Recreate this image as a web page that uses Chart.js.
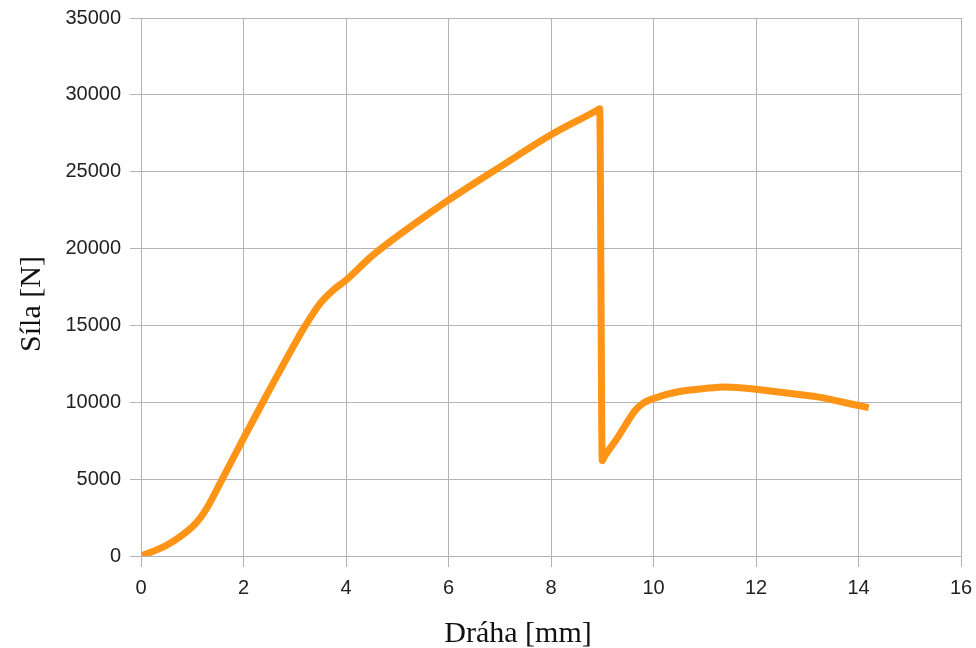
<!DOCTYPE html>
<html>
<head>
<meta charset="utf-8">
<script src="https://cdn.jsdelivr.net/npm/chart.js@4"></script>
<style>
html,body{margin:0;padding:0;background:#fff;}
#wrap{width:976px;height:648px;}
</style>
</head>
<body>
<div id="wrap"><canvas id="c" width="976" height="648"></canvas></div>
<script>
const drahaMm = [0, 0.5, 1.0, 1.15, 1.3, 1.6, 2.0, 2.4, 3.0, 3.2, 3.5, 3.75, 4.0, 4.5, 5.0, 5.5, 6.0, 7.0, 8.0, 8.9, 8.95, 9.0, 9.03, 9.3, 9.65, 9.8, 10.0, 10.5, 11.0, 11.4, 12.0, 12.6, 13.2, 13.7, 14.2];
const silaN = [0, 700, 1900, 2450, 3200, 5100, 7650, 10150, 13800, 14950, 16450, 17300, 17950, 19500, 20800, 22000, 23150, 25300, 27400, 29000, 29100, 6200, 6400, 7700, 9500, 9950, 10250, 10700, 10900, 11000, 10850, 10600, 10350, 10000, 9650];
const xTitle = 'Dráha [mm]';
const yTitle = 'Síla [N]';

const points = drahaMm.map((x, i) => ({x: x, y: silaN[i]}));
const grid = '#b3b3b3';

const titlesPlugin = {
  id: 'axisTitles',
  afterDraw(chart) {
    const ctx = chart.ctx;
    ctx.save();
    ctx.fillStyle = '#111';
    ctx.font = '30px "Liberation Serif"';
    ctx.textAlign = 'center';
    ctx.textBaseline = 'alphabetic';
    ctx.fillText(xTitle, 518, 642);
    ctx.translate(40, 304);
    ctx.rotate(-Math.PI / 2);
    ctx.fillText(yTitle, 0, 0);
    ctx.restore();
  }
};

new Chart(document.getElementById('c'), {
  type: 'scatter',
  data: {
    datasets: [{
      data: points,
      showLine: true,
      borderColor: '#ff9416',
      backgroundColor: '#ff9416',
      borderWidth: 7,
      pointRadius: 0,
      cubicInterpolationMode: 'monotone',
      borderJoinStyle: 'round',
      borderCapStyle: 'butt'
    }]
  },
  options: {
    responsive: false,
    animation: false,
    devicePixelRatio: 1,
    layout: {padding: {top: 18, right: 15, left: 0, bottom: 0}},
    plugins: {legend: {display: false}, tooltip: {enabled: false}},
    scales: {
      x: {
        type: 'linear',
        min: 0, max: 16,
        ticks: {stepSize: 2, color: '#222', font: {family: 'Liberation Sans', size: 20}, padding: 9, callback: v => String(v)},
        grid: {color: grid, lineWidth: 1, tickLength: 11, drawTicks: true},
        border: {color: grid},
        afterFit: s => { s.height = 92; s.paddingLeft = 0; s.paddingRight = 0; }
      },
      y: {
        type: 'linear',
        min: 0, max: 35000,
        ticks: {stepSize: 5000, color: '#222', font: {family: 'Liberation Sans', size: 20}, padding: 9, callback: v => String(v)},
        grid: {color: grid, lineWidth: 1, tickLength: 11},
        border: {color: grid},
        afterFit: s => { s.width = 141; s.paddingTop = 0; s.paddingBottom = 0; }
      }
    }
  },
  plugins: [titlesPlugin]
});
</script>
</body>
</html>
